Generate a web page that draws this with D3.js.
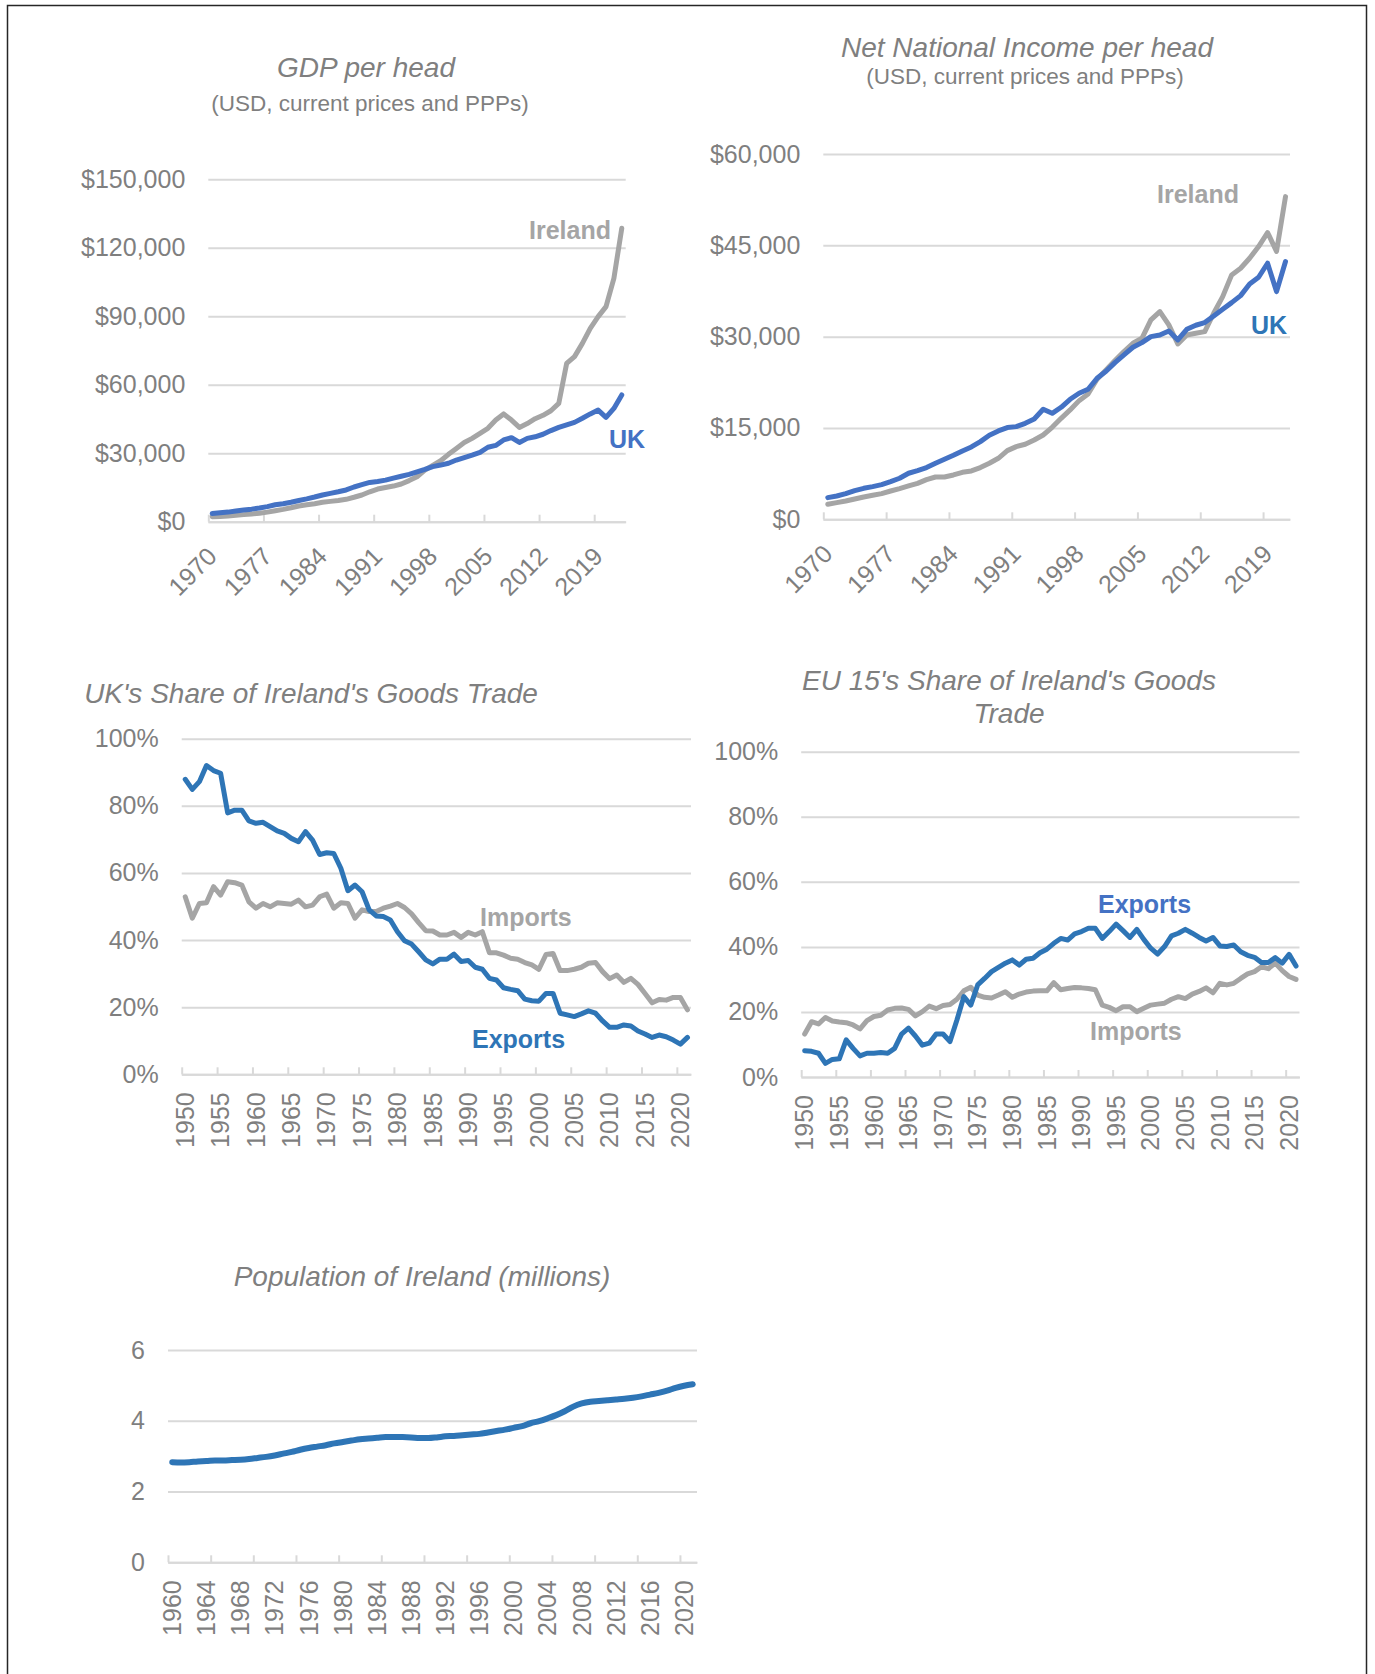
<!DOCTYPE html>
<html>
<head>
<meta charset="utf-8">
<script src="https://cdn.jsdelivr.net/npm/d3@7"></script>
<style>
    body { margin: 0; background: #ffffff; }
    svg text { font-family: "Liberation Sans", Arial, sans-serif; }
</style>
</head>
<body>
<div id="vis-container"></div>
<script>
const width = 1375,
      height = 1674;

const blue = "#4472C4",
      darkBlue = "#2E75B6",
      grey = "#A5A5A5",
      textGrey = "#7F7F7F",
      gridGrey = "#D9D9D9";

// ******* Data *******
// GDP per head, USD current prices and PPPs, 1970-2022
var gdpIreland = [2200, 2300, 2500, 2800, 3100, 3400, 3700, 4200, 4800, 5400,
    6100, 6900, 7400, 7900, 8500, 8900, 9300, 9800, 10700, 11700,
    13100, 14300, 15000, 15600, 16500, 18000, 19700, 22600, 24700, 26700,
    29500, 32100, 34700, 36500, 38700, 40900, 44500, 47200, 44500, 41300,
    43000, 45100, 46600, 48600, 51800, 69300, 72300, 78100, 84700, 89800,
    94200, 106600, 128500];
var gdpUK = [3600, 3900, 4200, 4700, 5100, 5500, 6000, 6600, 7400, 7900,
    8500, 9300, 10000, 10800, 11700, 12400, 13100, 13900, 15200, 16200,
    17200, 17600, 18200, 19100, 19900, 20700, 21800, 22900, 24100, 24800,
    25600, 27000, 28100, 29200, 30400, 32600, 33400, 35800, 36800, 34700,
    36500, 37200, 38300, 39900, 41300, 42400, 43500, 45300, 47200, 48900,
    45700, 49600, 55500];

// Net national income per head, 1970-2021
var nniIreland = [2460, 2740, 3010, 3340, 3670, 3940, 4220, 4650, 5040, 5480,
    5910, 6520, 6950, 6950, 7280, 7720, 7940, 8490, 9200, 10020,
    11280, 11940, 12320, 13030, 13850, 15110, 16590, 17960, 19490, 20590,
    23000, 24530, 26070, 27540, 28910, 29730, 32750, 34120, 31930, 28800,
    30280, 30560, 30830, 33840, 36580, 40140, 41230, 42880, 44800, 47100,
    44000, 53000];
var nniUK = [3560, 3830, 4220, 4710, 5090, 5370, 5690, 6190, 6740, 7560,
    7990, 8490, 9200, 9860, 10510, 11230, 11880, 12760, 13800, 14510,
    15060, 15220, 15770, 16480, 18070, 17410, 18400, 19710, 20700, 21360,
    23160, 24310, 25740, 27000, 28260, 29020, 30010, 30280, 30940, 29460,
    31210, 31870, 32310, 33400, 34500, 35590, 36740, 38660, 39760, 42060,
    37400, 42330];

// UK's share of Ireland's goods trade (%), 1950-2021
var ukExports = [87.9, 84.9, 87.2, 92.0, 90.5, 89.7, 77.9, 78.7, 78.7, 75.5,
    74.8, 75.1, 73.8, 72.5, 71.8, 70.3, 69.3, 72.3, 69.8, 65.5,
    66.0, 65.8, 61.4, 54.7, 56.4, 54.4, 49.0, 47.2, 47.0, 46.0,
    42.5, 39.8, 38.8, 36.5, 34.1, 32.9, 34.3, 34.3, 35.8, 33.6,
    33.9, 31.9, 31.3, 28.6, 28.1, 25.8, 25.3, 24.9, 22.4, 21.9,
    21.8, 24.1, 24.1, 18.2, 17.7, 17.2, 18.0, 18.9, 18.2, 15.9,
    14.0, 14.0, 14.7, 14.4, 12.9, 12.0, 11.0, 11.7, 11.2, 10.2,
    9.0, 11.0];
var ukImports = [52.9, 46.5, 50.9, 51.1, 55.9, 53.4, 57.4, 57.1, 56.4, 51.4,
    49.5, 50.9, 49.9, 51.1, 50.9, 50.7, 51.9, 49.9, 50.4, 52.9,
    53.7, 49.5, 51.1, 50.9, 46.5, 49.0, 48.5, 48.5, 49.5, 50.1,
    50.9, 49.7, 47.8, 45.2, 42.8, 42.7, 41.5, 41.5, 42.3, 40.8,
    42.3, 41.5, 42.5, 36.2, 36.2, 35.5, 34.6, 34.3, 33.3, 32.6,
    31.3, 35.7, 36.0, 30.9, 30.9, 31.3, 31.9, 33.1, 33.3, 30.6,
    28.5, 29.6, 27.4, 28.6, 26.8, 24.1, 21.3, 22.3, 22.1, 22.9,
    22.9, 19.2];

// EU 15's share of Ireland's goods trade (%), 1950-2021
var euExports = [8.1, 7.9, 7.3, 4.2, 5.4, 5.6, 11.4, 8.8, 6.5, 7.3,
    7.3, 7.5, 7.3, 8.8, 13.2, 15.0, 12.6, 9.8, 10.4, 13.2,
    13.2, 10.9, 17.5, 24.7, 22.1, 28.3, 30.3, 32.4, 33.7, 35.0,
    36.0, 34.4, 36.2, 36.5, 38.2, 39.3, 41.1, 42.6, 42.1, 44.0,
    44.7, 45.7, 45.7, 42.6, 44.7, 47.0, 45.0, 42.9, 45.4, 42.3,
    39.6, 37.8, 40.1, 43.4, 44.2, 45.4, 44.2, 42.9, 41.8, 42.9,
    40.3, 40.1, 40.6, 38.5, 37.4, 36.8, 35.2, 35.2, 36.7, 35.0,
    37.7, 34.1];
var euImports = [13.2, 17.0, 16.3, 18.3, 17.2, 16.9, 16.7, 16.0, 14.8, 17.3,
    18.6, 19.0, 20.6, 21.1, 21.2, 20.8, 18.8, 20.1, 21.8, 21.0,
    22.0, 22.3, 23.9, 26.5, 27.6, 25.2, 24.5, 24.3, 25.2, 26.2,
    24.5, 25.5, 26.1, 26.4, 26.5, 26.5, 29.0, 26.8, 27.2, 27.5,
    27.4, 27.2, 26.8, 22.1, 21.4, 20.4, 21.6, 21.6, 20.1, 21.1,
    22.1, 22.4, 22.7, 23.9, 24.7, 24.1, 25.5, 26.3, 27.4, 25.9,
    28.8, 28.3, 28.8, 30.3, 31.7, 32.4, 33.9, 33.3, 35.0, 32.7,
    30.9, 30.0];

// Population of Ireland (millions), 1960-2021
var population = [2.83, 2.82, 2.83, 2.85, 2.86, 2.88, 2.88, 2.89, 2.90, 2.92,
    2.95, 2.98, 3.02, 3.07, 3.12, 3.18, 3.23, 3.27, 3.31, 3.36,
    3.40, 3.44, 3.48, 3.50, 3.52, 3.54, 3.54, 3.54, 3.53, 3.51,
    3.51, 3.53, 3.56, 3.57, 3.59, 3.61, 3.63, 3.67, 3.71, 3.75,
    3.80, 3.85, 3.93, 3.99, 4.07, 4.16, 4.27, 4.40, 4.49, 4.54,
    4.56, 4.58, 4.60, 4.62, 4.65, 4.69, 4.74, 4.79, 4.85, 4.93,
    4.99, 5.03];

// Axis ticks
var dollarTicksGdp = [0, 30000, 60000, 90000, 120000, 150000];
var dollarTicksNni = [0, 15000, 30000, 45000, 60000];
var percentTicks = [0, 20, 40, 60, 80, 100];
var popTicks = [0, 2, 4, 6];

var dollarFormat = function(d) { return "$" + d3.format(",")(d); };
var percentFormat = function(d) { return d + "%"; };

var svg = d3.select("#vis-container").append("svg")
    .attr("width", width)
    .attr("height", height);

// Outer frame
svg.append("rect")
    .attr("x", 7.5).attr("y", 5.5)
    .attr("width", 1359).attr("height", 1720)
    .attr("fill", "none")
    .attr("stroke", "#262626")
    .attr("stroke-width", 1.5);

// Draws one small line chart
function drawPanel(p) {
    var years = d3.range(p.firstYear, p.firstYear + p.series[0].values.length);
    var x = d3.scaleBand().domain(years).range([p.left, p.right]);
    // linear version of the same axis, used for ticks at band edges
    var xEdge = d3.scaleLinear().domain([p.firstYear, p.firstYear + years.length]).range([p.left, p.right]);
    var y = d3.scaleLinear().domain([0, p.yMax]).range([p.bottom, p.top]);

    var g = svg.append("g");

    // ******* Gridlines + y labels *******
    var yAxis = g.append("g")
        .attr("transform", `translate(${p.left} 0)`)
        .call(d3.axisLeft(y).tickValues(p.yTicks).tickFormat(p.yFormat)
            .tickSize(-(p.right - p.left)).tickPadding(23));
    yAxis.select(".domain").remove();
    yAxis.selectAll("line").attr("stroke", gridGrey).attr("stroke-width", 2);
    yAxis.selectAll("text")
        .attr("fill", textGrey)
        .attr("font-size", 25);

    // ******* x axis line and ticks *******
    var xTickYears = years.filter(function(d) { return (d - p.firstYear) % p.tickEvery == 0; });
    var xAxis = g.append("g")
        .attr("transform", `translate(0 ${p.bottom})`)
        .call(d3.axisBottom(xEdge).tickValues(xTickYears).tickFormat("")
            .tickSize(-7).tickSizeOuter(0));
    xAxis.selectAll("line, path").attr("stroke", gridGrey).attr("stroke-width", 2);

    // ******* x labels *******
    var labelYears = years.filter(function(d) { return (d - p.firstYear) % p.labelEvery == 0; });
    var xLabels = g.append("g")
        .attr("transform", `translate(0 ${p.bottom})`)
        .call(d3.axisBottom(x).tickValues(labelYears).tickSize(0));
    xLabels.select(".domain").remove();
    xLabels.selectAll("text")
        .attr("x", 0).attr("y", 0)
        .attr("dy", "0.35em")
        .attr("text-anchor", "end")
        .attr("fill", textGrey)
        .attr("font-size", 25)
        .attr("transform", p.labelAngle == -45 ? "translate(0 30) rotate(-45)" : "translate(0 18) rotate(-90)");

    // ******* Lines *******
    p.series.forEach(function(s) {
        var line = d3.line()
            .x(function(d, i) { return x(years[i]) + x.bandwidth() / 2; })
            .y(function(d) { return y(d); })
            .curve(p.smooth ? d3.curveMonotoneX : d3.curveLinear);
        g.append("path")
            .datum(s.values)
            .attr("d", line)
            .attr("fill", "none")
            .attr("stroke", s.color)
            .attr("stroke-width", s.width || 5)
            .attr("stroke-linejoin", "round")
            .attr("stroke-linecap", "round");
    });

    // ******* Series labels *******
    (p.labels || []).forEach(function(l) {
        g.append("text")
            .attr("x", l.x).attr("y", l.y)
            .attr("fill", l.color)
            .attr("font-size", 25)
            .attr("font-weight", "bold")
            .text(l.text);
    });

    // ******* Titles *******
    p.titles.forEach(function(t) {
        g.append("text")
            .attr("x", t.x).attr("y", t.y)
            .attr("dy", "0.35em")
            .attr("text-anchor", "middle")
            .attr("fill", textGrey)
            .attr("font-size", t.size || 28)
            .attr("font-style", t.italic === false ? "normal" : "italic")
            .text(t.text);
    });
}

drawPanel({
    left: 208.3, right: 625.7, top: 179.2, bottom: 521.7,
    firstYear: 1970, yMax: 150000, yTicks: dollarTicksGdp, yFormat: dollarFormat,
    tickEvery: 7, labelEvery: 7, labelAngle: -45,
    series: [
        {values: gdpIreland, color: grey},
        {values: gdpUK, color: blue}
    ],
    labels: [
        {text: "Ireland", x: 529, y: 239, color: grey},
        {text: "UK", x: 609, y: 448, color: blue}
    ],
    titles: [
        {text: "GDP per head", x: 366, y: 67},
        {text: "(USD, current prices and PPPs)", x: 370, y: 103, size: 22.5, italic: false}
    ]
});

drawPanel({
    left: 823.3, right: 1290, top: 154, bottom: 519.3,
    firstYear: 1970, yMax: 60000, yTicks: dollarTicksNni, yFormat: dollarFormat,
    tickEvery: 7, labelEvery: 7, labelAngle: -45,
    series: [
        {values: nniIreland, color: grey},
        {values: nniUK, color: blue}
    ],
    labels: [
        {text: "Ireland", x: 1157, y: 203, color: grey},
        {text: "UK", x: 1251, y: 334, color: darkBlue}
    ],
    titles: [
        {text: "Net National Income per head", x: 1027, y: 47},
        {text: "(USD, current prices and PPPs)", x: 1025, y: 76, size: 22.5, italic: false}
    ]
});

drawPanel({
    left: 181.7, right: 691, top: 738.7, bottom: 1074.3,
    firstYear: 1950, yMax: 100, yTicks: percentTicks, yFormat: percentFormat,
    tickEvery: 5, labelEvery: 5, labelAngle: -90,
    series: [
        {values: ukImports, color: grey},
        {values: ukExports, color: darkBlue}
    ],
    labels: [
        {text: "Imports", x: 480, y: 926, color: grey},
        {text: "Exports", x: 472, y: 1048, color: darkBlue}
    ],
    titles: [
        {text: "UK's Share of Ireland's Goods Trade", x: 311, y: 693}
    ]
});

drawPanel({
    left: 801.2, right: 1299.5, top: 751.7, bottom: 1077,
    firstYear: 1950, yMax: 100, yTicks: percentTicks, yFormat: percentFormat,
    tickEvery: 5, labelEvery: 5, labelAngle: -90,
    series: [
        {values: euImports, color: grey},
        {values: euExports, color: darkBlue}
    ],
    labels: [
        {text: "Exports", x: 1098, y: 913, color: blue},
        {text: "Imports", x: 1090, y: 1040, color: grey}
    ],
    titles: [
        {text: "EU 15's Share of Ireland's Goods", x: 1009, y: 680},
        {text: "Trade", x: 1009, y: 713}
    ]
});

drawPanel({
    left: 168, right: 697, top: 1350, bottom: 1562.3,
    firstYear: 1960, yMax: 6, yTicks: popTicks, yFormat: d3.format("d"),
    tickEvery: 5, labelEvery: 4, labelAngle: -90, smooth: true,
    series: [
        {values: population, color: darkBlue, width: 6}
    ],
    titles: [
        {text: "Population of Ireland (millions)", x: 422, y: 1276}
    ]
});
</script>
</body>
</html>
